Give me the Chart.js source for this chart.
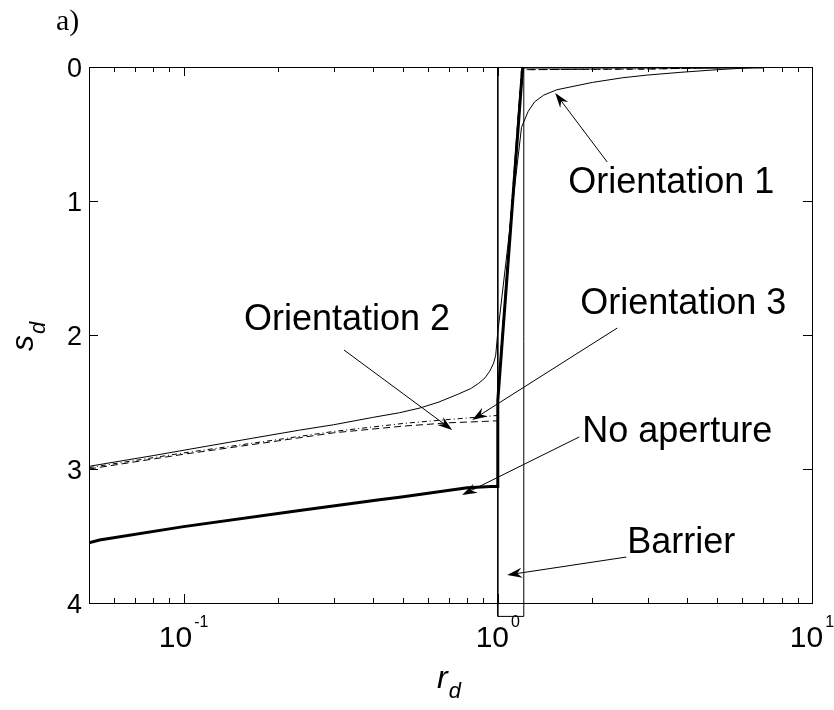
<!DOCTYPE html>
<html>
<head>
<meta charset="utf-8">
<script src="https://cdn.jsdelivr.net/npm/chart.js@4/dist/chart.umd.min.js"></script>
<style>
  html, body { margin: 0; padding: 0; background: #fff; }
  #wrap { width: 834px; height: 710px; position: relative; }
</style>
</head>
<body>
<div id="wrap"><canvas id="c" width="834" height="710"></canvas></div>
<script>
// Dimensionless drawdown s_d against dimensionless radius r_d

// No aperture (thick line)
const rdNoAperture = [0.05, 0.054, 0.1, 0.234, 0.42, 0.487, 0.8, 0.95, 1.0, 1.0, 1.2, 7.0];
const sdNoAperture = [3.55, 3.53, 3.43, 3.31, 3.23, 3.21, 3.14, 3.13, 3.13, 2.49, 0.0, 0.0];

// Orientation 1 (thin solid)
const rdOrient1 = [0.05, 0.08, 0.112, 0.166, 0.234, 0.3, 0.4, 0.487, 0.565, 0.65, 0.75, 0.82, 0.87, 0.91, 0.943, 0.97, 0.985, 0.998,
                   1.19, 1.25, 1.31, 1.4, 1.54, 2.0, 2.5, 3.0, 3.8, 5.0, 7.0];
const sdOrient1 = [2.98, 2.90, 2.84, 2.77, 2.71, 2.67, 2.615, 2.58, 2.545, 2.50, 2.44, 2.40, 2.36, 2.32, 2.27, 2.21, 2.15, 2.0,
                   0.45, 0.33, 0.26, 0.21, 0.17, 0.115, 0.08, 0.06, 0.04, 0.02, 0.0];

// Orientation 2 (dashed)
const rdOrient2 = [0.05, 0.1, 0.2, 0.3, 0.5, 0.7, 0.9, 1.0, 1.0, 1.19, 3.0, 7.0];
const sdOrient2 = [3.00, 2.89, 2.79, 2.73, 2.68, 2.655, 2.645, 2.64, 2.45, 0.02, 0.015, 0.0];

// Orientation 3 (dash-dot)
const rdOrient3 = [0.05, 0.1, 0.2, 0.3, 0.5, 0.7, 0.9, 1.0, 1.0, 1.19, 3.0, 7.0];
const sdOrient3 = [2.99, 2.88, 2.78, 2.72, 2.66, 2.63, 2.61, 2.60, 2.45, 0.02, 0.015, 0.0];

// Barrier outline
const rdBarrier = [1.0, 1.0, 1.21, 1.21];
const sdBarrier = [0.0, 4.1, 4.1, 0.0];

// Axis ticks
const xMajorTicks = [0.1, 1, 10];
const xMajorExponents = ['-1', '0', '1'];
const xMinorTicks = [0.05, 0.06, 0.07, 0.08, 0.09, 0.2, 0.3, 0.4, 0.5, 0.6, 0.7, 0.8, 0.9,
                     2, 3, 4, 5, 6, 7, 8, 9];
const yTicks = [0, 1, 2, 3, 4];
const yTickLabels = ['0', '1', '2', '3', '4'];

// Annotations: text anchor (left, baseline) and arrow tail -> tip, in data units
const noteTexts = ['Orientation 1', 'Orientation 2', 'Orientation 3', 'No aperture', 'Barrier'];
const noteTextPos = [[1.676, 0.94], [0.1557, 1.963], [1.83, 1.843], [1.857, 2.799], [2.583, 3.627]];
const noteArrowTail = [[2.23, 0.709], [0.324, 2.112], [2.40, 1.948], [1.816, 2.761], [2.565, 3.657]];
const noteArrowTip = [[1.523, 0.194], [0.716, 2.709], [0.829, 2.634], [0.770, 3.194], [1.071, 3.791]];

function pts(xs, ys) { return xs.map((x, i) => ({ x: x, y: ys[i] })); }

const SANS = '"Liberation Sans", Arial, sans-serif';
const SERIF = '"Liberation Serif", "Times New Roman", serif';

function arrow(ctx, x0, y0, x1, y1) {
  const dx = x1 - x0, dy = y1 - y0;
  const len = Math.hypot(dx, dy);
  const ux = dx / len, uy = dy / len;
  const nx = -uy, ny = ux;
  const L = 15, W = 5, B = 10;
  ctx.beginPath();
  ctx.moveTo(x0, y0);
  ctx.lineTo(x1 - B * ux, y1 - B * uy);
  ctx.lineWidth = 1;
  ctx.strokeStyle = '#000';
  ctx.stroke();
  ctx.beginPath();
  ctx.moveTo(x1, y1);
  ctx.lineTo(x1 - L * ux + W * nx, y1 - L * uy + W * ny);
  ctx.lineTo(x1 - B * ux, y1 - B * uy);
  ctx.lineTo(x1 - L * ux - W * nx, y1 - L * uy - W * ny);
  ctx.closePath();
  ctx.fillStyle = '#000';
  ctx.fill();
}

const frame = {
  id: 'frame',
  afterDraw(chart) {
    const ctx = chart.ctx;
    const a = chart.chartArea;
    const xs = chart.scales.x, ys = chart.scales.y;
    ctx.save();
    ctx.strokeStyle = '#000';
    ctx.lineWidth = 1;
    // box
    ctx.strokeRect(Math.round(a.left) + 0.5, Math.round(a.top) + 0.5,
                   Math.round(a.right - a.left), Math.round(a.bottom - a.top));
    // x ticks (inward, bottom and top)
    const tick = (v, len) => {
      const px = Math.round(xs.getPixelForValue(v)) + 0.5;
      ctx.beginPath();
      ctx.moveTo(px, a.bottom); ctx.lineTo(px, a.bottom - len);
      ctx.moveTo(px, a.top); ctx.lineTo(px, a.top + len);
      ctx.stroke();
    };
    xMinorTicks.forEach(v => tick(v, 5));
    xMajorTicks.forEach(v => tick(v, 9));
    // y ticks (inward, left and right)
    yTicks.forEach(v => {
      const py = Math.round(ys.getPixelForValue(v)) + 0.5;
      ctx.beginPath();
      ctx.moveTo(a.left, py); ctx.lineTo(a.left + 9, py);
      ctx.moveTo(a.right, py); ctx.lineTo(a.right - 9, py);
      ctx.stroke();
    });
    ctx.fillStyle = '#000';
    // y tick labels
    ctx.font = '27px ' + SANS;
    ctx.textAlign = 'right';
    ctx.textBaseline = 'alphabetic';
    yTicks.forEach((v, i) => {
      const py = ys.getPixelForValue(v);
      ctx.fillText(yTickLabels[i], a.left - 7, py + 10);
    });
    // x tick labels: 10^n
    ctx.textAlign = 'left';
    xMajorTicks.forEach((v, i) => {
      const px = xs.getPixelForValue(v);
      ctx.font = '30px ' + SANS;
      const wBase = ctx.measureText('10').width;
      ctx.font = '16px ' + SANS;
      const wExp = ctx.measureText(xMajorExponents[i]).width;
      const total = wBase + 2 + wExp;
      const x0 = px - total / 2;
      ctx.font = '30px ' + SANS;
      ctx.fillText('10', x0, a.bottom + 44);
      ctx.font = '16px ' + SANS;
      ctx.fillText(xMajorExponents[i], x0 + wBase + 2, a.bottom + 24);
    });
    // axis titles
    ctx.font = 'italic 32px ' + SANS;
    ctx.fillText('r', 437, 688);
    const wr = ctx.measureText('r').width;
    ctx.font = 'italic 22px ' + SANS;
    ctx.fillText('d', 437 + wr + 1, 698);
    ctx.save();
    ctx.translate(33, 351);
    ctx.rotate(-Math.PI / 2);
    ctx.font = 'italic 32px ' + SANS;
    ctx.fillText('s', 0, 0);
    const ws = ctx.measureText('s').width;
    ctx.font = 'italic 22px ' + SANS;
    ctx.fillText('d', ws + 1, 12);
    ctx.restore();
    // panel tag
    ctx.font = '30px ' + SERIF;
    ctx.fillText('a)', 56, 30);
    // annotations
    ctx.font = '36px ' + SANS;
    noteTexts.forEach((t, i) => {
      const tx = xs.getPixelForValue(noteTextPos[i][0]);
      const ty = ys.getPixelForValue(noteTextPos[i][1]);
      ctx.fillStyle = '#000';
      ctx.fillText(t, tx, ty);
      arrow(ctx,
        xs.getPixelForValue(noteArrowTail[i][0]), ys.getPixelForValue(noteArrowTail[i][1]),
        xs.getPixelForValue(noteArrowTip[i][0]), ys.getPixelForValue(noteArrowTip[i][1]));
    });
    ctx.restore();
  }
};

new Chart(document.getElementById('c'), {
  type: 'line',
  data: {
    datasets: [
      { label: 'Barrier', data: pts(rdBarrier, sdBarrier), borderColor: '#000', borderWidth: 1, clip: false },
      { label: 'Orientation 2', data: pts(rdOrient2, sdOrient2), borderColor: '#000', borderWidth: 1, borderDash: [7, 4] },
      { label: 'Orientation 3', data: pts(rdOrient3, sdOrient3), borderColor: '#000', borderWidth: 1, borderDash: [5, 3, 1, 3] },
      { label: 'Orientation 1', data: pts(rdOrient1, sdOrient1), borderColor: '#000', borderWidth: 1 },
      { label: 'No aperture', data: pts(rdNoAperture, sdNoAperture), borderColor: '#000', borderWidth: 3 }
    ]
  },
  options: {
    responsive: false,
    animation: false,
    devicePixelRatio: 1,
    layout: { padding: { left: 89, right: 22, top: 67, bottom: 107 } },
    elements: { point: { radius: 0 }, line: { tension: 0, fill: false } },
    plugins: { legend: { display: false }, tooltip: { enabled: false } },
    scales: {
      x: { type: 'logarithmic', min: 0.05, max: 10, display: false },
      y: { type: 'linear', min: 0, max: 4, reverse: true, display: false }
    }
  },
  plugins: [frame]
});
</script>
</body>
</html>
